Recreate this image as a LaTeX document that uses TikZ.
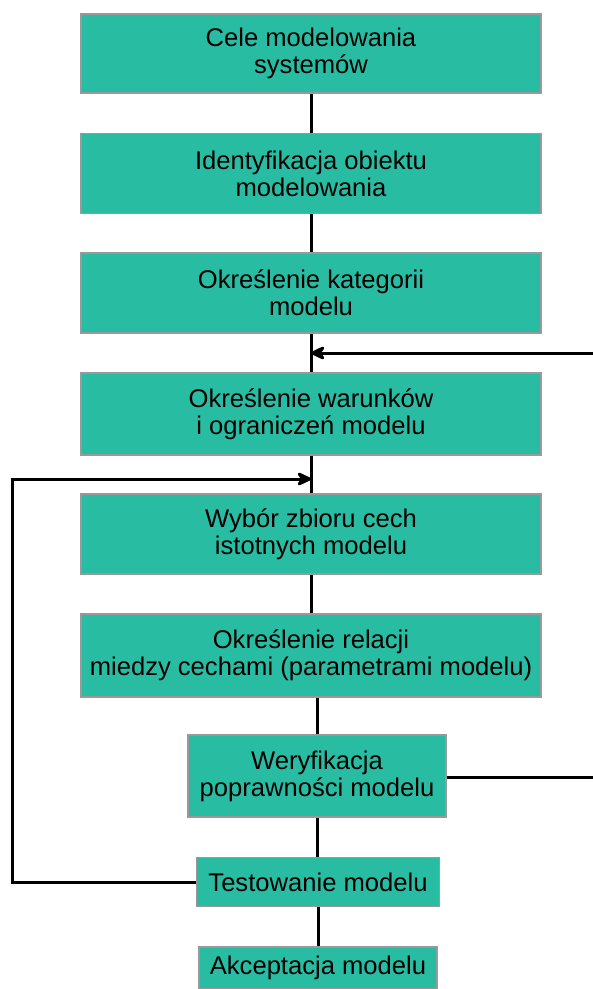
\documentclass[tikz,border=0pt]{standalone}
\usepackage{fontspec}
\setmainfont{Liberation Sans}
\usepackage{tikz}
\usetikzlibrary{arrows.meta, positioning, calc}
\definecolor{boxteal}{RGB}{40,189,163}

\begin{document}
\begin{tikzpicture}[
    x=0.5pt, y=-0.5pt,
    every node/.style={font=\fontsize{12.8}{13.6}\selectfont},
    stage/.style={draw=gray!80, line width=0.6pt, fill=boxteal, align=center,
        inner sep=0pt, minimum height=40pt},
    wide/.style={stage, minimum width=230pt},
    link/.style={line width=1.5pt},
    arr/.style={-{Stealth[length=9pt, width=8.5pt, inset=3pt, round]}, line width=1.5pt}
]
\useasboundingbox (0,0) rectangle (593,989);

% Main chain of stages
\node[wide, minimum height=39.5pt] (cele) at (311,53.5) {Cele modelowania\\systemów};
\node[wide] (ident) at (311,173.5) {Identyfikacja obiektu\\modelowania};
\node[wide] (kateg) at (311,293) {Określenie kategorii\\modelu};
\node[wide, minimum height=41pt] (warun) at (311,414) {Określenie warunków\\i ograniczeń modelu};
\node[wide] (wybor) at (311,534) {Wybór zbioru cech\\istotnych modelu};
\node[wide, minimum height=41.5pt] (relac) at (311,655.5) {Określenie relacji\\miedzy cechami (parametrami modelu)};
\node[stage, minimum width=129pt, minimum height=41pt] (weryf) at (317,776) {Weryfikacja\\poprawności modelu};
\node[stage, minimum width=121.5pt, minimum height=24.5pt] (test) at (318,882) {Testowanie modelu};
\node[stage, minimum width=119pt, minimum height=21pt] (akcep) at (318,968) {Akceptacja modelu};

% Feedback points
\coordinate (in1) at (kateg.south |- 0,353);
\coordinate (in2) at (warun.south |- 0,479);
\coordinate (r1) at (593,353);
\coordinate (r2) at (593,777);
\coordinate (l1) at (12,479);

% Vertical links
\draw[link] (cele) -- (ident);
\draw[link] (ident) -- (kateg);
\draw[link] (kateg) -- (warun);
\draw[link] (warun) -- (wybor);
\draw[link] (wybor) -- (relac);
\draw[link] (relac.south -| weryf.north) -- (weryf);
\draw[link] (weryf) -- (test.north -| weryf.south);
\draw[link] (test.south -| akcep.north) -- (akcep);

% Return arrows
\draw[arr] (r1) -- (in1);
\draw[link] (weryf.east |- r2) -- (r2);
\draw[arr] (test.west) -| (l1) -- (in2);
\end{tikzpicture}
\end{document}
